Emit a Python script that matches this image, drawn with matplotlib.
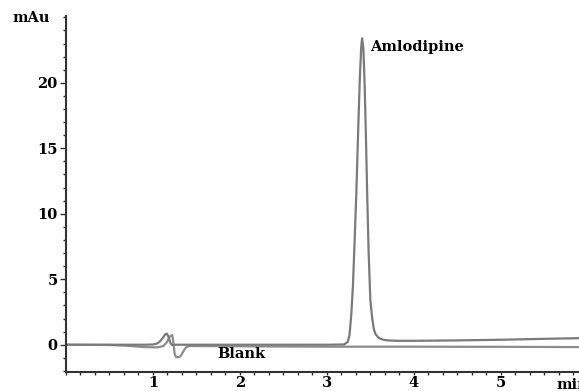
import matplotlib
matplotlib.use("Agg")
import matplotlib.pyplot as plt
from matplotlib.ticker import MultipleLocator

# retention time (min) and absorbance (mAu)
sample_t = [0.0, 0.5, 0.9, 1.0, 1.05, 1.08, 1.11, 1.14, 1.16, 1.18, 1.2, 1.22, 1.25, 1.3,
            1.5, 2.0, 2.5, 3.0, 3.2, 3.24, 3.26, 3.28, 3.30, 3.32, 3.34, 3.36, 3.38, 3.395,
            3.405, 3.42, 3.435, 3.45, 3.465, 3.48, 3.50, 3.52, 3.54, 3.56, 3.60, 3.65, 3.70,
            3.8, 4.0, 4.5, 5.0, 5.5, 5.9]
sample_v = [0.0, 0.0, 0.0, 0.02, 0.1, 0.25, 0.5, 0.78, 0.85, 0.6, 0.15, -0.03, 0.0, 0.0,
            0.0, 0.0, 0.0, 0.0, 0.02, 0.22, 0.7, 2.2, 4.5, 8.0, 11.8, 16.3, 20.5, 22.7,
            23.4, 22.65, 19.8, 15.7, 11.2, 7.2, 3.45, 2.1, 1.2, 0.8, 0.5, 0.38, 0.33,
            0.3, 0.3, 0.33, 0.38, 0.45, 0.5]

blank_t = [0.0, 0.5, 0.7, 0.9, 1.05, 1.12, 1.16, 1.19, 1.222, 1.235, 1.25, 1.265, 1.30,
           1.32, 1.35, 1.38, 1.42, 2.0, 3.0, 4.0, 5.0, 5.9]
blank_v = [0.0, -0.02, -0.08, -0.18, -0.2, -0.1, 0.2, 0.6, 0.74, 0.2, -0.7, -0.95, -0.95,
           -0.85, -0.5, -0.2, -0.1, -0.12, -0.15, -0.15, -0.16, -0.18]

xticks = [1, 2, 3, 4, 5]
yticks = [0, 5, 10, 15, 20]

font = {"family": "DejaVu Serif", "weight": "bold", "size": 10.5}

fig = plt.figure(figsize=(5.79, 3.91), dpi=100)
ax = fig.add_axes([0.114, 0.048, 0.886, 0.911])

ax.plot(blank_t, blank_v, color="#8c8c8c", lw=1.6)
ax.plot(sample_t, sample_v, color="#7a7a7a", lw=1.6)

ax.set_xlim(0, 5.9)
ax.set_ylim(-2.1, 25.1)
ax.set_xticks(xticks)
ax.set_yticks(yticks)
ax.xaxis.set_minor_locator(MultipleLocator(1 / 6))
ax.yaxis.set_minor_locator(MultipleLocator(1))

for s in ("top", "right"):
    ax.spines[s].set_visible(False)
for s in ("left", "bottom"):
    ax.spines[s].set_color("#333333")
    ax.spines[s].set_linewidth(1.5)

ax.tick_params(axis="y", which="major", length=4, width=1, color="#333333", pad=2)
ax.tick_params(axis="y", which="minor", length=2.5, width=1, color="#333333")
ax.tick_params(axis="x", which="major", length=2, width=1, color="#333333", pad=0.5)
ax.tick_params(axis="x", which="minor", length=2, width=1, color="#333333")
for lab in ax.get_xticklabels() + ax.get_yticklabels():
    lab.set_fontproperties(font)

ax.text(3.494, 22.77, "Amlodipine", va="center", ha="left", **font)
ax.text(2.017, -0.71, "Blank", va="center", ha="center", **font)
fig.text(12 / 579, 1 - 18 / 391, "mAu", va="center", ha="left", **font)
fig.text(556 / 579, 1 - 385 / 391, "min", va="center", ha="left", **font)

fig.savefig("out.png", dpi=100)
